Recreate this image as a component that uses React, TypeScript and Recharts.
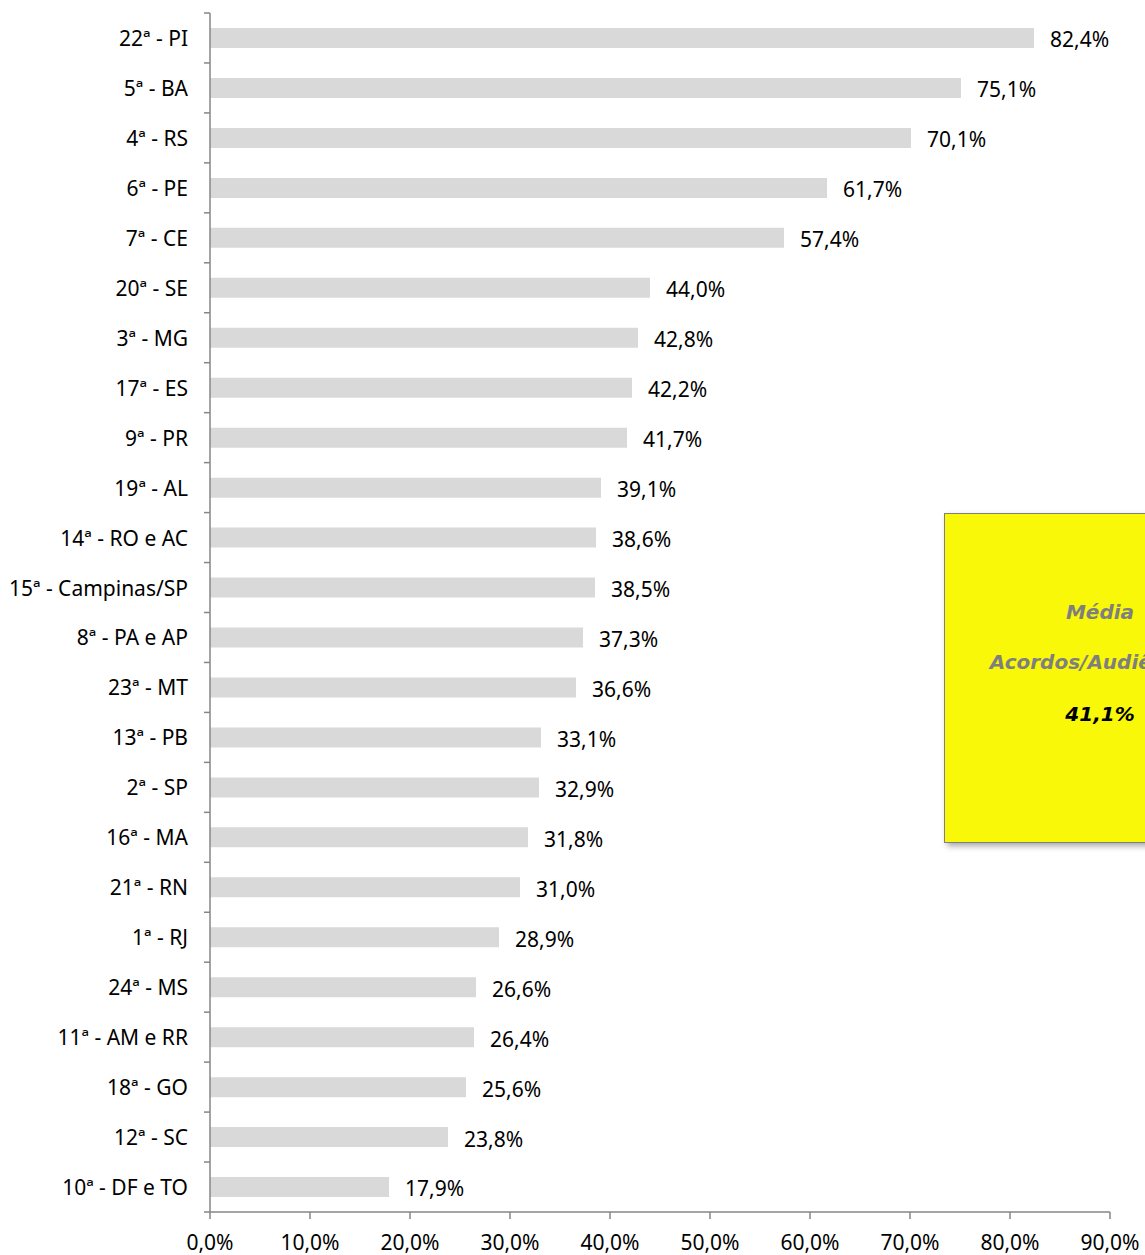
import React from "react";
import { BarChart, Bar, XAxis, YAxis, LabelList } from "recharts";

const categories = [
  "22ª - PI", "5ª - BA", "4ª - RS", "6ª - PE", "7ª - CE", "20ª - SE", "3ª - MG", "17ª - ES",
  "9ª - PR", "19ª - AL", "14ª - RO e AC", "15ª - Campinas/SP", "8ª - PA e AP", "23ª - MT",
  "13ª - PB", "2ª - SP", "16ª - MA", "21ª - RN", "1ª - RJ", "24ª - MS", "11ª - AM e RR",
  "18ª - GO", "12ª - SC", "10ª - DF e TO",
];
const values = [
  82.4, 75.1, 70.1, 61.7, 57.4, 44.0, 42.8, 42.2, 41.7, 39.1, 38.6, 38.5, 37.3, 36.6,
  33.1, 32.9, 31.8, 31.0, 28.9, 26.6, 26.4, 25.6, 23.8, 17.9,
];
const xTicks = [0, 10, 20, 30, 40, 50, 60, 70, 80, 90];
const boxLines = ["Média", "Acordos/Audiências", "41,1%"];

const data = categories.map((name, i) => ({ name, value: values[i] }));

const W = 1145;
const H = 1255;
const TOP = 13;
const BOTTOM_AXIS = 43;
const PLOT_H = H - TOP - BOTTOM_AXIS;
const BAND = PLOT_H / categories.length;
const FONT = "'Noto Sans', 'Open Sans', sans-serif";
const AXIS_COLOR = "#868686";
const FS = 21;

const fmt = (v: number) => v.toFixed(1).replace(".", ",") + "%";

const YTick = (props: any) => {
  const { x, y, payload, index } = props;
  const top = y - BAND / 2;
  return (
    <g>
      <line x1={x - 6} x2={x} y1={top} y2={top} stroke={AXIS_COLOR} strokeWidth={1.5} />
      {index === categories.length - 1 && (
        <line x1={x - 6} x2={x} y1={y + BAND / 2} y2={y + BAND / 2} stroke={AXIS_COLOR} strokeWidth={1.5} />
      )}
      <text x={x - 22} y={y} textAnchor="end" dominantBaseline="central" fontSize={FS} fill="#000" fontFamily={FONT}>
        {payload.value}
      </text>
    </g>
  );
};

export default function App() {
  return (
    <div style={{ position: "absolute", left: 0, top: 0, width: W, height: H, overflow: "hidden", background: "#fff" }}>
      <BarChart
        width={W}
        height={H}
        data={data}
        layout="vertical"
        margin={{ top: TOP, right: 35, bottom: 0, left: 0 }}
      >
        <XAxis
          type="number"
          domain={[0, 90]}
          ticks={xTicks}
          tickFormatter={fmt}
          height={BOTTOM_AXIS}
          stroke={AXIS_COLOR}
          strokeWidth={1.5}
          tickSize={7}
          tickMargin={16}
          tick={{ fill: "#000", fontSize: FS, fontFamily: FONT }}
          interval={0}
        />
        <YAxis
          type="category"
          dataKey="name"
          width={210}
          stroke={AXIS_COLOR}
          strokeWidth={1.5}
          tickLine={false}
          tickSize={0}
          tickMargin={0}
          tick={<YTick />}
          interval={0}
        />
        <Bar dataKey="value" fill="#d9d9d9" barSize={20} isAnimationActive={false}>
          <LabelList
            dataKey="value"
            position="right"
            offset={16}
            dy={2}
            formatter={(v: any) => fmt(Number(v))}
            fill="#000"
            fontSize={FS}
            fontFamily={FONT}
          />
        </Bar>
      </BarChart>
      <div
        style={{
          position: "absolute",
          left: 944,
          top: 513,
          width: 312,
          height: 330,
          background: "#f8f808",
          border: "1px solid #7f7f7f",
          boxShadow: "3px 3px 6px rgba(0,0,0,0.35)",
          boxSizing: "border-box",
          fontFamily: "'DejaVu Sans', cursive",
          fontStyle: "italic",
          fontWeight: "bold",
          textAlign: "center",
        }}
      >
        <div style={{ position: "absolute", left: 0, right: 0, top: 86, fontSize: 20, color: "#7f7f7f" }}>{boxLines[0]}</div>
        <div style={{ position: "absolute", left: 0, right: 0, top: 136, fontSize: 20, color: "#7f7f7f" }}>{boxLines[1]}</div>
        <div style={{ position: "absolute", left: 0, right: 0, top: 188, fontSize: 20, color: "#000" }}>{boxLines[2]}</div>
      </div>
    </div>
  );
}
